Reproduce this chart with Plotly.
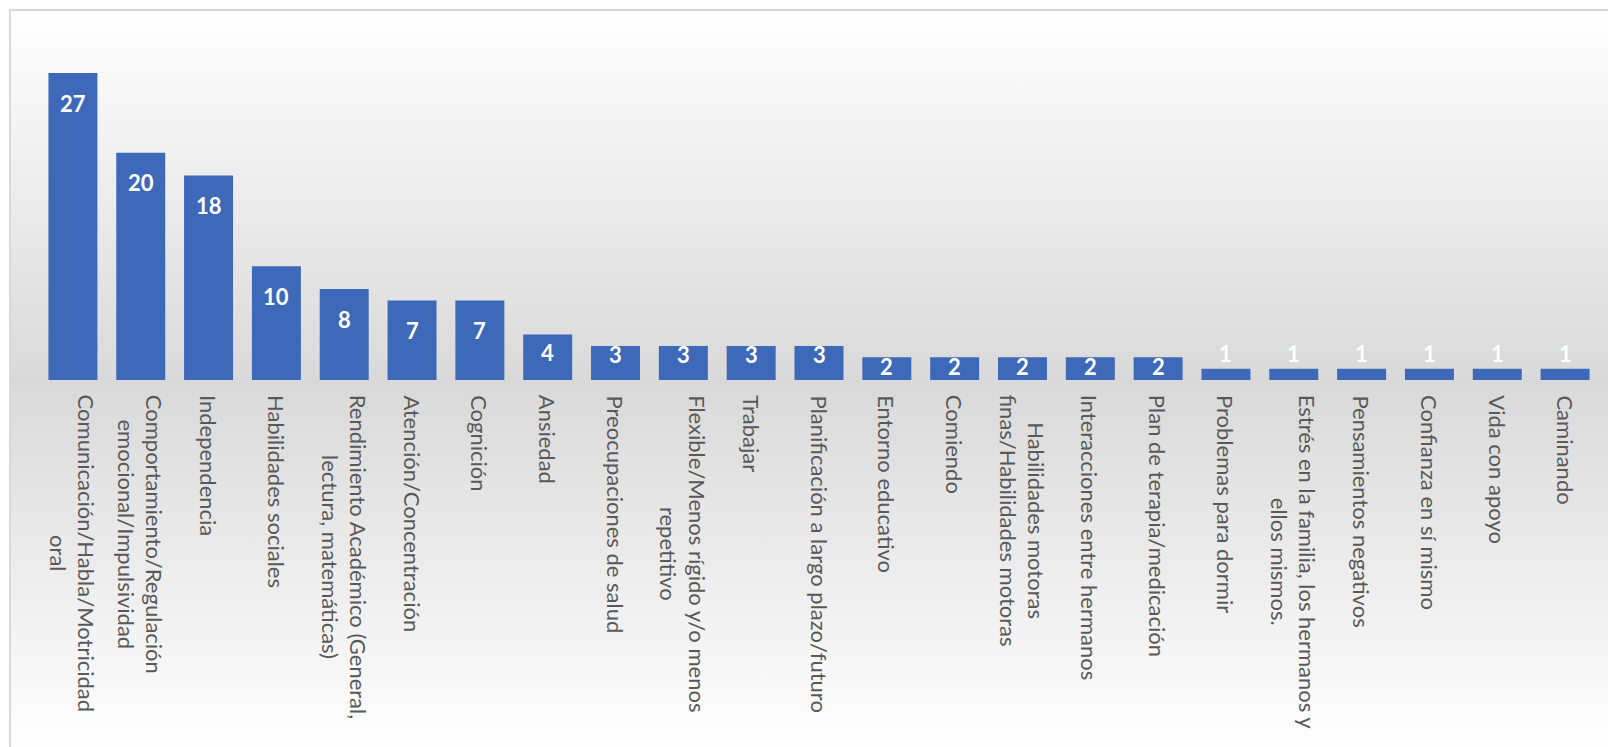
import base64
import plotly.graph_objects as go

categories = [
    "Comunicación/Habla/Motricidad<br>oral",
    "Comportamiento/Regulación<br>emocional/Impulsividad",
    "Independencia",
    "Habilidades sociales",
    "Rendimiento Académico (General,<br>lectura, matemáticas)",
    "Atención/Concentración",
    "Cognición",
    "Ansiedad",
    "Preocupaciones de salud",
    "Flexible/Menos rígido y/o menos<br>repetitivo",
    "Trabajar",
    "Planificación a largo plazo/futuro",
    "Entorno educativo",
    "Comiendo",
    "Habilidades motoras<br>finas/Habilidades motoras",
    "Interacciones entre hermanos",
    "Plan de terapia/medicación",
    "Problemas para dormir",
    "Estrés en la familia, los hermanos y<br>ellos mismos.",
    "Pensamientos negativos",
    "Confianza en sí mismo",
    "Vida con apoyo",
    "Caminando",
]
values = [27, 20, 18, 10, 8, 7, 7, 4, 3, 3, 3, 3, 2, 2, 2, 2, 2, 1, 1, 1, 1, 1, 1]

W, H = 1608, 747
L, R, T, B = 39, 9, 39, 367
PW, PH = W - L - R, H - T - B
YMAX = 30
PXU = PH / YMAX
FONT = "Lato, Carlito, Calibri, sans-serif"

def pxx(px):
    return (px - L) / PW

def pxy(py):
    return (H - B - py) / PH

ids = list(range(len(categories)))

fig = go.Figure()
fig.add_trace(go.Bar(
    x=ids, y=values,
    marker=dict(color="#3D69B8", line=dict(width=0)),
    hoverinfo="skip",
))

annotations = []
for i, (c, v) in enumerate(zip(categories, values)):
    annotations.append(dict(
        x=i, y=0, xref="x", yref="y", text=c, showarrow=False,
        textangle=90, xanchor="center", yanchor="top", align="center",
        yshift=-13, font=dict(family=FONT, size=22, color="#595959"),
    ))
    bar_px = v * PXU
    if v >= 2:
        shift = -min(30, max(bar_px - 27, 9))
    else:
        shift = 15
    annotations.append(dict(
        x=i, y=v, xref="x", yref="y", text=str(v), showarrow=False,
        xanchor="center", yanchor="middle", yshift=shift,
        font=dict(family=FONT, size=22, color="white", weight="bold"),
    ))

svg = ('<svg xmlns="http://www.w3.org/2000/svg" viewBox="0 0 100 100" '
       'width="100" height="100" preserveAspectRatio="none">'
       '<defs><linearGradient id="g" x1="0" y1="0" x2="0" y2="1">'
       '<stop offset="0" stop-color="#ffffff"/>'
       '<stop offset="0.5" stop-color="#d9d9d9"/>'
       '<stop offset="1" stop-color="#ffffff"/>'
       '</linearGradient></defs>'
       '<rect x="0" y="0" width="100" height="100" fill="url(#g)"/></svg>')
src = "data:image/svg+xml;base64," + base64.b64encode(svg.encode()).decode()

fig.update_layout(
    width=W, height=H,
    margin=dict(l=L, r=R, t=T, b=B, pad=0),
    paper_bgcolor="white",
    plot_bgcolor="rgba(0,0,0,0)",
    showlegend=False,
    bargap=0.278,
    xaxis=dict(range=[-0.5, len(categories) - 0.5], showticklabels=False,
               showgrid=False, zeroline=False, showline=False, ticks=""),
    yaxis=dict(range=[0, YMAX], visible=False, showgrid=False, zeroline=False),
    images=[dict(source=src, xref="paper", yref="paper",
                 x=pxx(10), y=pxy(10), sizex=pxx(W) - pxx(10),
                 sizey=pxy(10) - pxy(750), xanchor="left", yanchor="top",
                 sizing="stretch", layer="below")],
    shapes=[
        dict(type="line", xref="paper", yref="paper", x0=pxx(9), x1=pxx(W),
             y0=pxy(10), y1=pxy(10), line=dict(color="#d9d9d9", width=2)),
        dict(type="line", xref="paper", yref="paper", x0=pxx(10), x1=pxx(10),
             y0=pxy(10), y1=pxy(H + 5), line=dict(color="#d9d9d9", width=2)),
    ],
    annotations=annotations,
)

fig.write_html(
    "out.html",
    config={"displayModeBar": False},
    post_script="document.body.style.margin='0';document.body.style.overflow='hidden';",
)
